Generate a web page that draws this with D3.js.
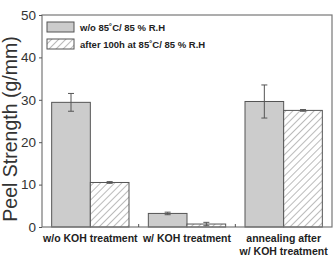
<!DOCTYPE html>
<html>
<head>
<meta charset="utf-8">
<script src="https://cdn.jsdelivr.net/npm/d3@7"></script>
<style>
body { margin: 0; background: #fff; }
text { font-family: "Liberation Sans", Arial, sans-serif; }
</style>
</head>
<body>
<div id="chart"></div>
<script>
var groups = ["w/o KOH treatment", "w/ KOH treatment", "annealing after|w/ KOH treatment"];
var seriesNames = ["w/o 85\u02daC/ 85 % R.H", "after 100h at 85\u02daC/ 85 % R.H"];
var before = [29.4, 3.2, 29.6];
var beforeErr = [2.1, 0.3, 3.9];
var after = [10.5, 0.7, 27.5];
var afterErr = [0.2, 0.4, 0.2];
var yTicks = [0, 10, 20, 30, 40, 50];

var width = 336, height = 257;
var margin = {top: 15, right: 4, bottom: 30, left: 42};

var svg = d3.select("#chart").append("svg")
	.attr("width", width)
	.attr("height", height);

var defs = svg.append("defs");
var pat = defs.append("pattern")
	.attr("id", "hatch")
	.attr("patternUnits", "userSpaceOnUse")
	.attr("width", 5)
	.attr("height", 5)
	.attr("patternTransform", "rotate(45)");
pat.append("rect").attr("width", 5).attr("height", 5).attr("fill", "#fff");
pat.append("line")
	.attr("x1", 0).attr("y1", 0).attr("x2", 0).attr("y2", 5)
	.attr("stroke", "#777").attr("stroke-width", 1);

var x = d3.scaleBand()
	.domain(groups)
	.range([margin.left, width - margin.right])
	.paddingInner(0.2)
	.paddingOuter(0.1);

var y = d3.scaleLinear()
	.domain([0, 50])
	.range([height - margin.bottom, margin.top]);

var g = svg.append("g");

// bars
var bw = x.bandwidth() / 2;
function drawSeries(vals, errs, offset, fill) {
	g.selectAll(null).data(vals).enter().append("rect")
		.attr("x", function(d, i) { return x(groups[i]) + offset; })
		.attr("y", function(d) { return y(d); })
		.attr("width", bw)
		.attr("height", function(d) { return y(0) - y(d); })
		.attr("fill", fill)
		.attr("stroke", "#555")
		.attr("stroke-width", 1);

	var eb = g.selectAll(null).data(vals).enter().append("g")
		.attr("stroke", "#555").attr("stroke-width", 1);
	eb.append("line")
		.attr("x1", function(d, i) { return x(groups[i]) + offset + bw / 2; })
		.attr("x2", function(d, i) { return x(groups[i]) + offset + bw / 2; })
		.attr("y1", function(d, i) { return y(d + errs[i]); })
		.attr("y2", function(d, i) { return y(d - errs[i]); });
	eb.append("line")
		.attr("x1", function(d, i) { return x(groups[i]) + offset + bw / 2 - 3; })
		.attr("x2", function(d, i) { return x(groups[i]) + offset + bw / 2 + 3; })
		.attr("y1", function(d, i) { return y(d + errs[i]); })
		.attr("y2", function(d, i) { return y(d + errs[i]); });
	eb.append("line")
		.attr("x1", function(d, i) { return x(groups[i]) + offset + bw / 2 - 3; })
		.attr("x2", function(d, i) { return x(groups[i]) + offset + bw / 2 + 3; })
		.attr("y1", function(d, i) { return y(d - errs[i]); })
		.attr("y2", function(d, i) { return y(d - errs[i]); });
}
drawSeries(before, beforeErr, 0, "#cccccc");
drawSeries(after, afterErr, bw, "url(#hatch)");

// frame
svg.append("rect")
	.attr("x", margin.left)
	.attr("y", margin.top)
	.attr("width", width - margin.left - margin.right)
	.attr("height", height - margin.top - margin.bottom)
	.attr("fill", "none")
	.attr("stroke", "#777")
	.attr("stroke-width", 1.2);

// y axis
var yAxis = svg.append("g")
	.attr("transform", "translate(" + margin.left + ",0)")
	.call(d3.axisLeft(y).tickValues(yTicks).tickSize(3).tickPadding(3));
yAxis.select(".domain").remove();
yAxis.selectAll("line").attr("stroke", "#555");
yAxis.selectAll("text").attr("font-size", 13.5).attr("fill", "#333");

// separator ticks on bottom axis
var seps = [x(groups[1]) - x.step() * x.paddingInner() / 2, x(groups[2]) - x.step() * x.paddingInner() / 2];
svg.selectAll(null).data(seps).enter().append("line")
	.attr("x1", function(d) { return d; })
	.attr("x2", function(d) { return d; })
	.attr("y1", y(0))
	.attr("y2", y(0) - 3)
	.attr("stroke", "#555");

// x labels
groups.forEach(function(gname) {
	var lines = gname.split("|");
	var t = svg.append("text")
		.attr("x", x(gname) + x.bandwidth() / 2)
		.attr("y", y(0) + 15)
		.attr("text-anchor", "middle")
		.attr("font-size", 10.5)
		.attr("font-weight", "bold")
		.attr("fill", "#222");
	lines.forEach(function(l, i) {
		t.append("tspan")
			.attr("x", x(gname) + x.bandwidth() / 2)
			.attr("dy", i === 0 ? 0 : 13)
			.text(l);
	});
});

// y label
svg.append("text")
	.attr("transform", "translate(17,129) rotate(-90)")
	.attr("text-anchor", "middle")
	.attr("font-size", 19.5)
	.attr("fill", "#333")
	.text("Peel Strength (g/mm)");

// legend
var legend = svg.append("g").attr("transform", "translate(47,22)");
var fills = ["#cccccc", "url(#hatch)"];
seriesNames.forEach(function(name, i) {
	legend.append("rect")
		.attr("x", 0).attr("y", i * 17)
		.attr("width", 27).attr("height", 10)
		.attr("fill", fills[i])
		.attr("stroke", "#555");
	legend.append("text")
		.attr("x", 33).attr("y", i * 17 + 9)
		.attr("font-size", 9.5)
		.attr("font-weight", "bold")
		.attr("fill", "#222")
		.text(name);
});
</script>
</body>
</html>
